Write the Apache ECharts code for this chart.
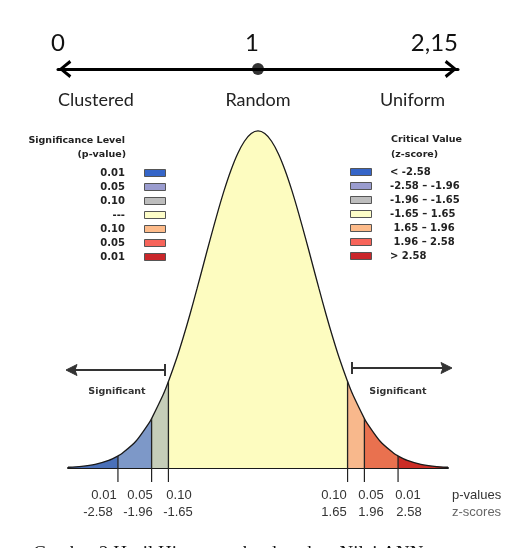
<!DOCTYPE html>
<html><head><meta charset="utf-8">
<script src="https://cdn.jsdelivr.net/npm/echarts@6/dist/echarts.min.js"></script>
<style>html,body{margin:0;padding:0;background:#fff}#c{width:517px;height:548px}</style>
</head><body><div id="c"></div>
<script>
// ---- data ----
const scaleTicks = ['0', '1', '2,15'];
const scaleLabels = ['Clustered', 'Random', 'Uniform'];
const scaleMarker = [[1, 1]];

const zValues = [-3.5, -3.25, -3, -2.75, -2.58, -2.5, -2.25, -2, -1.96, -1.75, -1.65, -1.5, -1.375, -1.25, -1.125, -1,
  -0.875, -0.75, -0.625, -0.5, -0.375, -0.25, -0.125, 0,
  0.125, 0.25, 0.375, 0.5, 0.625, 0.75, 0.875,
  1, 1.125, 1.25, 1.375, 1.5, 1.65, 1.75, 1.96, 2, 2.25, 2.5, 2.58, 2.75, 3, 3.25, 3.5];
const density = [0.0009, 0.0020, 0.0044, 0.0091, 0.0143, 0.0175, 0.0317, 0.0540, 0.0584, 0.0863, 0.1023, 0.1295, 0.1550, 0.1826, 0.2119, 0.2420,
  0.2721, 0.3011, 0.3282, 0.3521, 0.3719, 0.3867, 0.3958, 0.3989,
  0.3958, 0.3867, 0.3719, 0.3521, 0.3282, 0.3011, 0.2721,
  0.2420, 0.2119, 0.1826, 0.1550, 0.1295, 0.1023, 0.0863, 0.0584, 0.0540, 0.0317, 0.0175, 0.0143, 0.0091, 0.0044, 0.0020, 0.0009];

const zoneBounds = [-3.5, -2.58, -1.96, -1.65, 1.65, 1.96, 2.58, 3.5];
const zoneColors = ['#4a70b8', '#7d98c8', '#c5cdb9', '#fdfcc0', '#f8b88c', '#e9714f', '#cc2d26'];

const cutZ = [-2.58, -1.96, -1.65, 1.65, 1.96, 2.58];
const pValueLabels = ['0.01', '0.05', '0.10', '0.10', '0.05', '0.01'];
const zScoreLabels = ['-2.58', '-1.96', '-1.65', '1.65', '1.96', '2.58'];

const sigLevels = ['0.01', '0.05', '0.10', '---', '0.10', '0.05', '0.01'];
const critValues = ['< -2.58', '-2.58 \u2013 -1.96', '-1.96 \u2013 -1.65', '-1.65 \u2013 1.65', ' 1.65 \u2013 1.96', ' 1.96 \u2013 2.58', '> 2.58'];
const legendColors = ['#3565c8', '#9a9ccf', '#bdbdbd', '#fdfdc8', '#fdbb8a', '#f7645a', '#c9262a'];

// ---- layout (pixel positions for text) ----
const pLabelX = [104, 140, 179, 334, 371, 408];
const zLabelX = [98, 138, 178, 334, 371, 409];

const chart = echarts.init(document.getElementById('c'), null, {renderer: 'canvas'});

const series = [];
zoneColors.forEach((col, i) => {
  const lo = zoneBounds[i], hi = zoneBounds[i + 1];
  const d = zValues.map((z, k) => [z, density[k]]).filter(p => p[0] >= lo - 1e-9 && p[0] <= hi + 1e-9);
  series.push({
    type: 'line', xAxisIndex: 0, yAxisIndex: 0, data: d, smooth: 0.3, symbol: 'none', silent: true,
    lineStyle: {width: 0}, areaStyle: {color: col, opacity: 1}, z: 1
  });
});
series.push({
  type: 'line', xAxisIndex: 0, yAxisIndex: 0, silent: true, symbol: 'none', smooth: 0.3,
  data: zValues.map((z, k) => [z, density[k]]),
  lineStyle: {color: '#1a1a1a', width: 1.3}, z: 3
});
series.push({
  type: 'custom', xAxisIndex: 0, yAxisIndex: 0, silent: true, z: 4,
  data: cutZ.map(z => [z, density[zValues.indexOf(z)]]),
  renderItem: (params, api) => {
    const z = api.value(0), h = api.value(1);
    const top = api.coord([z, h]);
    const base = api.coord([z, 0]);
    return {
      type: 'group', children: [
        {type: 'line', shape: {x1: base[0], y1: base[1], x2: top[0], y2: top[1]}, style: {stroke: '#222', lineWidth: 1.3}},
        {type: 'line', shape: {x1: base[0], y1: base[1], x2: base[0], y2: base[1] + 14}, style: {stroke: '#222', lineWidth: 1.2}}
      ]
    };
  }
});
series.push({
  type: 'scatter', xAxisIndex: 1, yAxisIndex: 1, data: scaleMarker, symbolSize: 12,
  itemStyle: {color: '#000'}, silent: true, z: 5
});

const graphics = [];
const legFont = 'bold 10px "DejaVu Sans"';
const titleFont = 'bold 9.5px "DejaVu Sans"';
// left legend
graphics.push({type: 'text', x: 125, y: 141, style: {text: 'Significance Level', font: titleFont, fill: '#222', align: 'right', verticalAlign: 'middle'}});
graphics.push({type: 'text', x: 126, y: 155, style: {text: '(p-value)', font: titleFont, fill: '#222', align: 'right', verticalAlign: 'middle'}});
sigLevels.forEach((t, i) => {
  const y = 173 + 14 * i;
  graphics.push({type: 'text', x: 125, y: y, style: {text: t, font: legFont, fill: '#222', align: 'right', verticalAlign: 'middle'}});
  graphics.push({type: 'rect', shape: {x: 144.5, y: y - 3.5, width: 21, height: 7}, style: {fill: legendColors[i], stroke: '#555', lineWidth: 1}});
});
// right legend
graphics.push({type: 'text', x: 391, y: 140, style: {text: 'Critical Value', font: titleFont, fill: '#222', align: 'left', verticalAlign: 'middle'}});
graphics.push({type: 'text', x: 391, y: 155, style: {text: '(z-score)', font: titleFont, fill: '#222', align: 'left', verticalAlign: 'middle'}});
critValues.forEach((t, i) => {
  const y = 172 + 14 * i;
  graphics.push({type: 'rect', shape: {x: 350.5, y: y - 3.5, width: 21, height: 7}, style: {fill: legendColors[i], stroke: '#555', lineWidth: 1}});
  graphics.push({type: 'text', x: 390, y: y, style: {text: t, font: legFont, fill: '#222', align: 'left', verticalAlign: 'middle'}});
});
// significant arrows
graphics.push({type: 'line', shape: {x1: 70, y1: 370, x2: 165, y2: 370}, style: {stroke: '#333', lineWidth: 2}});
graphics.push({type: 'line', shape: {x1: 165, y1: 364, x2: 165, y2: 376}, style: {stroke: '#333', lineWidth: 2}});
graphics.push({type: 'polygon', shape: {points: [[66, 370], [77, 364.5], [75, 370], [77, 375.5]]}, style: {fill: '#333', stroke: '#333', lineWidth: 1}});
graphics.push({type: 'line', shape: {x1: 352, y1: 368, x2: 448, y2: 368}, style: {stroke: '#333', lineWidth: 2}});
graphics.push({type: 'line', shape: {x1: 352, y1: 362, x2: 352, y2: 374}, style: {stroke: '#333', lineWidth: 2}});
graphics.push({type: 'polygon', shape: {points: [[452, 368], [441, 362.5], [443, 368], [441, 373.5]]}, style: {fill: '#333', stroke: '#333', lineWidth: 1}});
graphics.push({type: 'text', x: 117, y: 392, style: {text: 'Significant', font: titleFont, fill: '#333', align: 'center', verticalAlign: 'middle'}});
graphics.push({type: 'text', x: 398, y: 392, style: {text: 'Significant', font: titleFont, fill: '#333', align: 'center', verticalAlign: 'middle'}});
graphics.push({type: 'text', x: 260, y: 371, style: {text: '(Random)', font: titleFont, fill: '#3a3a20', align: 'center', verticalAlign: 'middle'}});
// bottom labels
const botFont = '13px "Liberation Sans"';
pValueLabels.forEach((t, i) => {
  graphics.push({type: 'text', x: pLabelX[i], y: 495, style: {text: t, font: botFont, fill: '#333', align: 'center', verticalAlign: 'middle'}});
});
zScoreLabels.forEach((t, i) => {
  graphics.push({type: 'text', x: zLabelX[i], y: 512, style: {text: t, font: botFont, fill: '#333', align: 'center', verticalAlign: 'middle'}});
});
graphics.push({type: 'text', x: 452, y: 495, style: {text: 'p-values', font: botFont, fill: '#333', align: 'left', verticalAlign: 'middle'}});
graphics.push({type: 'text', x: 452, y: 512, style: {text: 'z-scores', font: botFont, fill: '#666', align: 'left', verticalAlign: 'middle'}});
// caption (cut off at bottom edge)
graphics.push({type: 'text', x: 33, y: 545, style: {text: 'Gambar 2 Hasil Histogram berdasarkan Nilai ANN', font: '19px "Liberation Serif"', fill: '#111', align: 'left', verticalAlign: 'top'}});

const topData = scaleTicks.map((t, i) => {
  if (i === 1) return {value: t, textStyle: {padding: [0, 12, 0, 0]}};
  if (i === 2) return {value: t, textStyle: {align: 'right'}};
  return {value: t};
});
const botData = scaleLabels.map((t, i) => {
  if (i === 0) return {value: t, textStyle: {align: 'left'}};
  if (i === 2) return {value: t, textStyle: {align: 'right', padding: [0, 13, 0, 0]}};
  return {value: t};
});

// chevron arrowhead
const chevron = 'path://M0,12 L3,14 L10,5 L17,14 L20,12 L10,0 Z';

chart.setOption({
  animation: false,
  backgroundColor: '#fff',
  grid: [
    {left: 68, width: 380, top: 130, height: 338},
    {left: 58, width: 400, top: 69, height: 1}
  ],
  xAxis: [
    {gridIndex: 0, type: 'value', min: -3.5, max: 3.5,
      axisLine: {show: true, onZero: false, lineStyle: {color: '#1a1a1a', width: 2}},
      axisTick: {show: false}, axisLabel: {show: false}, splitLine: {show: false}},
    {gridIndex: 1, type: 'category', position: 'top', boundaryGap: false, data: topData,
      axisLine: {show: true, onZero: false, lineStyle: {color: '#000', width: 3}, symbol: [chevron, chevron], symbolSize: [18, 14], symbolOffset: [7, -7]},
      axisTick: {show: false}, splitLine: {show: false},
      axisLabel: {fontFamily: 'Lato', fontSize: 24, color: '#111', margin: 14}},
    {gridIndex: 1, type: 'category', position: 'bottom', boundaryGap: false, data: botData,
      axisLine: {show: false}, axisTick: {show: false}, splitLine: {show: false},
      axisLabel: {fontFamily: 'Lato', fontSize: 18, color: '#222', margin: 21}}
  ],
  yAxis: [
    {gridIndex: 0, type: 'value', min: 0, max: 0.4, show: false},
    {gridIndex: 1, type: 'value', min: 0, max: 1, show: false}
  ],
  series: series,
  graphic: graphics
});
</script></body></html>
